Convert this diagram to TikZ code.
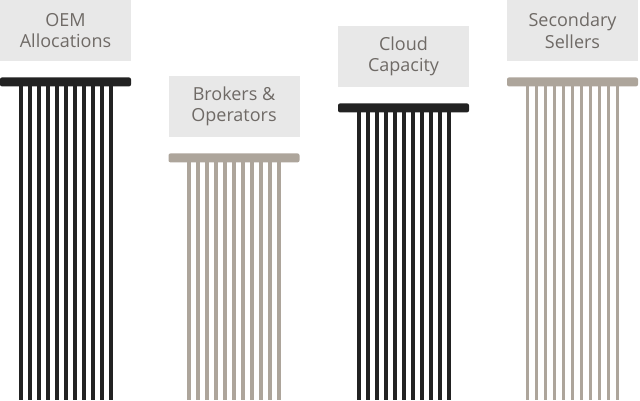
\documentclass[tikz,border=0pt]{standalone}
\usepackage{fontspec}
\setmainfont{Open Sans}
\usetikzlibrary{positioning}
\definecolor{boxgray}{HTML}{E8E8E8}
\definecolor{labelgray}{HTML}{6F6A66}
\definecolor{coaldark}{HTML}{222222}
\definecolor{taupe}{HTML}{ADA59B}

\begin{document}
\begin{tikzpicture}[x=1pt,y=-1pt,
  node distance=16pt,
  labelbox/.style={
    rectangle,
    fill=boxgray,
    text=labelgray,
    minimum width=131pt,
    minimum height=61pt,
    inner sep=0pt,
    align=center,
    font=\fontsize{18}{21.5}\selectfont,
  },
  barstyle/.style={
    rectangle,
    rounded corners=2pt,
    minimum width=131pt,
    minimum height=9pt,
    inner sep=0pt,
    fill=#1,
  }]
\useasboundingbox (0,0) rectangle (640,400);
\coordinate (floor) at (0,400);
% labels and their bars
\node[labelbox] (oem) at (65.5,30.5) {OEM\\Allocations};
\node[barstyle=coaldark] (oemBar) [below=of oem] {};
\node[labelbox] (brokers) at (234,106.5) {Brokers \&\\Operators};
\node[barstyle=taupe] (brokersBar) [below=of brokers] {};
\node[labelbox] (cloud) at (403.5,56.5) {Cloud\\Capacity};
\node[barstyle=coaldark] (cloudBar) [below=of cloud] {};
\node[labelbox] (sellers) at (572.5,30.5) {Secondary\\Sellers};
\node[barstyle=taupe] (sellersBar) [below=of sellers] {};
% the strands under each bar
\foreach \pillar/\col/\w in {oemBar/coaldark/4pt, brokersBar/taupe/3.6pt,
    cloudBar/coaldark/4pt, sellersBar/taupe/3.6pt}
  \foreach \k in {0,...,10} {
    \coordinate (top) at ([xshift=\k*9pt-45pt]\pillar.center);
    \draw[line width=\w, color=\col] (top) -- (top |- floor);
  }
\end{tikzpicture}
\end{document}
